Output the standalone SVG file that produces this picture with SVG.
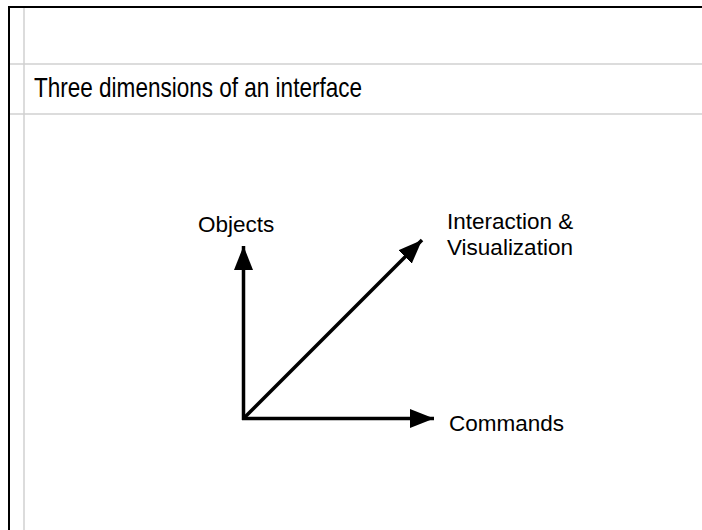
<svg xmlns="http://www.w3.org/2000/svg" width="702" height="530" viewBox="0 0 702 530">
<style>
.frame{stroke:#000;stroke-width:2;fill:none}
.grid{stroke:#d0d0d0;stroke-width:1.5;fill:none}
.lbl{font-family:"Liberation Sans",Arial,sans-serif;font-size:22.5px;fill:#000}
.title{font-family:"Liberation Sans",Arial,sans-serif;font-size:28px;fill:#000}
.axis{stroke:#000;stroke-width:3.5;fill:none}
</style>
<defs>
<marker id="ah" viewBox="0 0 24 19" refX="24" refY="9.5" markerWidth="24" markerHeight="19" markerUnits="userSpaceOnUse" orient="auto">
<path d="M0,0 L24,9.5 L0,19 Z" fill="#000"/>
</marker>
</defs>
<rect width="702" height="530" fill="#fff"/>
<g id="frame">
<line class="grid" x1="24" y1="7" x2="24" y2="530"/>
<line class="grid" x1="9" y1="64" x2="702" y2="64"/>
<line class="grid" x1="9" y1="114" x2="702" y2="114"/>
<line class="frame" x1="8" y1="7" x2="702" y2="7"/>
<line class="frame" x1="9" y1="6" x2="9" y2="530"/>
</g>
<g id="title"><text class="title" x="34" y="97" textLength="328" lengthAdjust="spacingAndGlyphs">Three dimensions of an interface</text></g>
<g id="connectors">
<line class="axis" x1="243.5" y1="420" x2="243.5" y2="246" marker-end="url(#ah)"/>
<line class="axis" x1="242" y1="418.5" x2="434" y2="418.5" marker-end="url(#ah)"/>
<line class="axis" x1="243.5" y1="418.5" x2="422" y2="240" marker-end="url(#ah)"/>
</g>
<g id="objects"><text class="lbl" x="198" y="232">Objects</text></g>
<g id="interaction"><text class="lbl" x="447" y="229">Interaction &amp;</text><text class="lbl" x="447" y="255">Visualization</text></g>
<g id="commands"><text class="lbl" x="449" y="431">Commands</text></g>
</svg>
